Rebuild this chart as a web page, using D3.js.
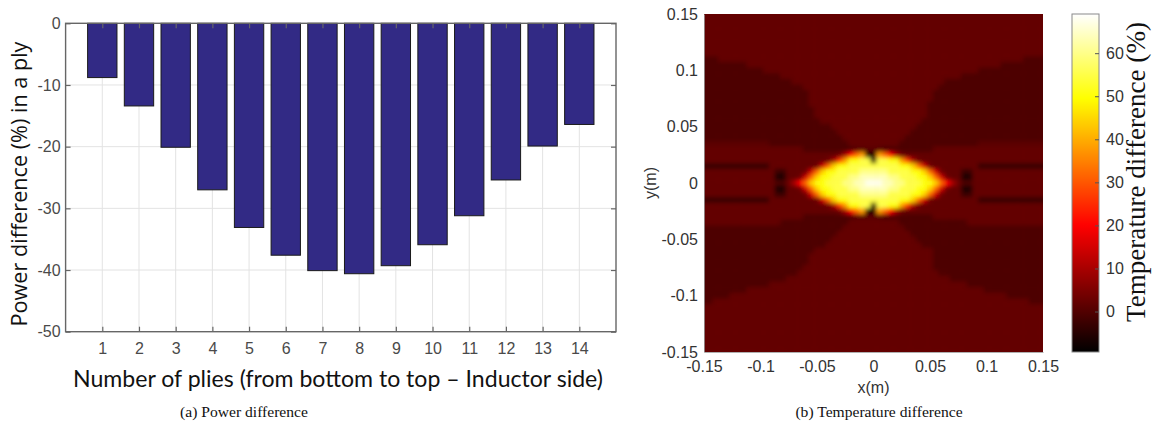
<!DOCTYPE html>
<html><head><meta charset="utf-8">
<script src="https://cdn.jsdelivr.net/npm/d3@7"></script>
<style>body{margin:0;background:#fff} svg{display:block}</style>
</head><body>
<svg id="c" width="1154" height="430"></svg>
<script>
// ---------- data: (a) power difference ----------
const plies = [1,2,3,4,5,6,7,8,9,10,11,12,13,14];
const powerDiff = [-8.8,-13.4,-20.1,-27.0,-33.1,-37.6,-40.1,-40.6,-39.3,-35.9,-31.2,-25.4,-19.9,-16.4];
const yTicksA = [0,-10,-20,-30,-40,-50];
const yTickLabelsA = ["0","-10","-20","-30","-40","-50"];
// ---------- data: (b) temperature difference field ----------
const axisTicksB = [-0.15,-0.1,-0.05,0,0.05,0.1,0.15];
const axisTickLabelsB = ["-0.15","-0.1","-0.05","0","0.05","0.1","0.15"];
const cbarTicks = [0,10,20,30,40,50,60];
const cbarRange = [-9.4, 69.1];
const gridStep = 0.005;          // m, cell size of the sampled field
// level codes -> temperature difference (%)
const levelCodes  = ["A","B","C","D","E","F","G","H","I","J","K","L","M","N","O","P","Q","R","S"];
const levelValues = [-6,-3,-0.5,1,2,3.5,6,10,15,20,26,32,38,44,50,55,60,64,68];
// rows from y=+0.15 (top) to y=-0.15 (bottom), run-length coded, 61 cells each (x=-0.15..0.15)
const fieldRows = [
"E61","E61","E61","E61","E61","E61","E61","E61",
"C3 E54 C4",
"C8 E45 C8",
"C11 E38 C12",
"C14 E32 C15",
"C16 E27 C18",
"C18 E24 C19",
"C19 E22 C20",
"C19 E22 C20",
"C19 E21 C21",
"C20 E20 C21",
"C20 E20 C21",
"C21 E18 C22",
"C23 E15 C23",
"C24 E13 C24",
"C25 E11 C25",
"D12 C14 E9 C14 D12",
"E18 C9 D5 C9 E20",
"E24 F1 H1 J1 L1 M1 A2 M1 L1 J1 H1 F1 E25",
"E22 F1 H1 K1 M1 O2 P2 A1 P2 O2 M1 K1 H1 F1 E22",
"B12 E8 F1 I1 L1 N1 O2 P9 O2 N1 L1 I1 F1 E8 B12",
"E13 B2 E3 F1 I1 L1 N1 O2 P4 Q5 P4 O2 N1 L1 I1 F1 E3 B2 E13",
"E13 A2 E2 F1 I1 L1 N1 O2 P3 Q2 R5 Q2 P3 O2 N1 L1 I1 F1 E2 A2 E13",
"E13 C2 F1 H1 J1 L1 N1 O2 P3 Q2 R2 S3 R2 Q2 P3 O2 N1 L1 J1 H1 F1 C2 E13",
"E13 A2 E2 F1 I1 L1 N1 O2 P3 Q2 R5 Q2 P3 O2 N1 L1 I1 F1 E2 A2 E13",
"E13 B2 E3 F1 I1 L1 N1 O2 P4 Q5 P4 O2 N1 L1 I1 F1 E3 B2 E13",
"B12 E8 F1 I1 L1 N1 O2 P9 O2 N1 L1 I1 F1 E8 B12",
"E22 F1 H1 K1 M1 O2 P2 A1 P2 O2 M1 K1 H1 F1 E22",
"E24 F1 H1 J1 L1 M1 A2 M1 L1 J1 H1 F1 E25",
"E18 C9 D5 C9 E20",
"E14 C12 E9 C12 E14",
"C25 E11 C25",
"C24 E13 C24",
"C23 E15 C23",
"C22 E17 C22",
"C20 E21 C20",
"C19 E22 C20",
"C19 E22 C20",
"C18 E23 C20",
"C17 E25 C19",
"C15 E29 C17",
"C12 E35 C14",
"C8 E42 C11",
"C5 E49 C7",
"C2 E56 C3",
"E61","E61","E61","E61","E61","E61","E61","E61","E61"
];

// ---------- helpers ----------
function decodeRow(s){
  const out = [];
  s.trim().split(/\s+/).forEach(tok => {
    const v = levelValues[levelCodes.indexOf(tok[0])];
    const n = +tok.slice(1);
    for (let k = 0; k < n; k++) out.push(v);
  });
  return out;
}
function hot(t){ // MATLAB "hot" colormap
  t = Math.max(0, Math.min(1, t));
  const r = Math.min(1, t / 0.375);
  const g = Math.max(0, Math.min(1, (t - 0.375) / 0.375));
  const b = Math.max(0, Math.min(1, (t - 0.75) / 0.25));
  return d3.rgb(r*255, g*255, b*255).formatHex();
}
function fitWidth(sel, target){
  const w = sel.node().getComputedTextLength();
  const fs = parseFloat(sel.attr("font-size"));
  sel.attr("font-size", (fs * target / w).toFixed(2));
}

const svg = d3.select("#c");
const defs = svg.append("defs");

// =================== (a) bar chart ===================
const A = {l: 65.6, r: 616, t: 23.3, b: 331.7};
const xA = d3.scaleLinear().domain([0, 15]).range([A.l, A.r]);
const yA = d3.scaleLinear().domain([0, -50]).range([A.t, A.b]);
const gA = svg.append("g");
const tickCol = "#4a4a4a";
const tickFont = "Liberation Sans, Arial, sans-serif";
// grid
gA.append("g").selectAll("line").data(plies).join("line")
  .attr("x1", d => xA(d)).attr("x2", d => xA(d)).attr("y1", A.t).attr("y2", A.b)
  .attr("stroke", "#e3e3e3").attr("stroke-width", 1);
gA.append("g").selectAll("line").data(yTicksA.slice(1, -1)).join("line")
  .attr("x1", A.l).attr("x2", A.r).attr("y1", d => yA(d)).attr("y2", d => yA(d))
  .attr("stroke", "#e3e3e3").attr("stroke-width", 1);
// bars
const bw = xA(0.8) - xA(0);
gA.append("g").selectAll("rect").data(powerDiff).join("rect")
  .attr("x", (d, i) => xA(plies[i]) - bw/2).attr("width", bw)
  .attr("y", yA(0)).attr("height", d => yA(d) - yA(0))
  .attr("fill", "#322a85").attr("stroke", "#1a1a1a").attr("stroke-width", 1);
// axes (MATLAB style, inward ticks, box)
const axB = d3.axisBottom(xA).tickValues(plies).tickSize(-5).tickPadding(11).tickFormat(d3.format("d"));
const axL = d3.axisLeft(yA).tickValues(yTicksA).tickSize(-5).tickPadding(5).tickFormat((d, i) => yTickLabelsA[i]);
const axR = d3.axisRight(yA).tickValues(yTicksA).tickSize(-5).tickFormat("");
const axT = d3.axisTop(xA).tickValues(plies).tickSize(-5).tickFormat("");
function styleAxis(g){
  g.selectAll(".tick line").attr("stroke", "#666").attr("stroke-width", 1.2);
  g.selectAll(".tick text").attr("fill", tickCol).attr("font-family", tickFont).attr("font-size", 16);
}
gA.append("g").attr("transform", `translate(0,${A.b})`).call(axB).call(styleAxis);
gA.append("g").attr("transform", `translate(${A.l},0)`).call(axL).call(styleAxis);
gA.append("g").attr("transform", `translate(${A.r},0)`).call(axR).call(styleAxis);
gA.append("g").attr("transform", `translate(0,${A.t})`).call(axT).call(styleAxis);
gA.selectAll(".domain").remove();
gA.append("rect").attr("x", A.l).attr("y", A.t).attr("width", A.r - A.l).attr("height", A.b - A.t)
  .attr("fill", "none").attr("stroke", "#666").attr("stroke-width", 1.4);
// labels
const ylabA = gA.append("text").attr("transform", `translate(27,${(40+328)/2}) rotate(-90)`)
  .attr("text-anchor", "middle").attr("font-family", "Open Sans, sans-serif").attr("font-size", 22)
  .attr("fill", "#111").text("Power difference (%) in a ply");
fitWidth(ylabA, 285);
const xlabA = gA.append("text").attr("x", 338).attr("y", 387)
  .attr("text-anchor", "middle").attr("font-family", "Lato, sans-serif").attr("font-size", 22)
  .attr("fill", "#111").text("Number of plies (from bottom to top \u2013 Inductor side)");
fitWidth(xlabA, 530);
svg.append("text").attr("x", 244).attr("y", 417).attr("text-anchor", "middle")
  .attr("font-family", "Liberation Serif, Times New Roman, serif").attr("font-size", 15.6)
  .attr("fill", "#111").text("(a) Power difference");

// =================== (b) heatmap ===================
const B = {l: 704, r: 1043, t: 14, b: 352};
const xB = d3.scaleLinear().domain([-0.15, 0.15]).range([B.l, B.r]);
const yB = d3.scaleLinear().domain([0.15, -0.15]).range([B.t, B.b]);
const color = d3.scaleSequential(hot).domain(cbarRange);

defs.append("clipPath").attr("id", "clipB").append("rect")
  .attr("x", B.l).attr("y", B.t).attr("width", B.r - B.l).attr("height", B.b - B.t);
defs.append("filter").attr("id", "soft").attr("x", "-3%").attr("y", "-3%").attr("width", "106%").attr("height", "106%")
  .append("feGaussianBlur").attr("stdDeviation", 1.9);

const cells = [];
fieldRows.forEach((row, j) => {
  decodeRow(row).forEach((v, i) => {
    cells.push({x: -0.15 + i * gridStep, y: 0.15 - j * gridStep, v});
  });
});
const gB = svg.append("g").attr("clip-path", "url(#clipB)");
gB.append("rect").attr("x", B.l).attr("y", B.t).attr("width", B.r - B.l).attr("height", B.b - B.t)
  .attr("fill", color(2));
const cw = xB(gridStep) - xB(0), ch = yB(0) - yB(gridStep);
gB.append("g").attr("filter", "url(#soft)").selectAll("rect").data(cells).join("rect")
  .attr("x", d => xB(d.x) - cw/2).attr("y", d => yB(d.y) - ch/2)
  .attr("width", cw + 0.6).attr("height", ch + 0.6)
  .attr("fill", d => color(d.v));

const axXB = d3.axisBottom(xB).tickValues(axisTicksB).tickSize(0).tickPadding(9).tickFormat((d, i) => axisTickLabelsB[i]);
const axYB = d3.axisLeft(yB).tickValues(axisTicksB).tickSize(0).tickPadding(6).tickFormat((d, i) => axisTickLabelsB[i]);
function styleB(g){
  g.select(".domain").attr("stroke", "#9a9a9a").attr("stroke-width", 0.8);
  g.selectAll(".tick text").attr("fill", "#333").attr("font-family", tickFont).attr("font-size", 16);
}
svg.append("g").attr("transform", `translate(0,${B.b})`).call(axXB).call(styleB);
svg.append("g").attr("transform", `translate(${B.l},0)`).call(axYB).call(styleB);
svg.append("text").attr("x", xB(0)).attr("y", 393).attr("text-anchor", "middle")
  .attr("font-family", tickFont).attr("font-size", 16).attr("fill", "#333").text("x(m)");
svg.append("text").attr("transform", `translate(656,${yB(0)}) rotate(-90)`).attr("text-anchor", "middle")
  .attr("font-family", tickFont).attr("font-size", 16).attr("fill", "#333").text("y(m)");
svg.append("text").attr("x", 879).attr("y", 417).attr("text-anchor", "middle")
  .attr("font-family", "Liberation Serif, Times New Roman, serif").attr("font-size", 15.6)
  .attr("fill", "#111").text("(b) Temperature difference");

// colorbar
const CB = {l: 1072, r: 1099, t: 14, b: 352};
const yC = d3.scaleLinear().domain(cbarRange).range([CB.b, CB.t]);
const grad = defs.append("linearGradient").attr("id", "cbgrad").attr("x1", 0).attr("y1", 1).attr("x2", 0).attr("y2", 0);
grad.selectAll("stop").data(d3.range(0, 1.0001, 0.01)).join("stop")
  .attr("offset", d => d).attr("stop-color", d => color(cbarRange[0] + d * (cbarRange[1] - cbarRange[0])));
svg.append("rect").attr("x", CB.l).attr("y", CB.t).attr("width", CB.r - CB.l).attr("height", CB.b - CB.t)
  .attr("fill", "url(#cbgrad)").attr("stroke", "#8a8a8a").attr("stroke-width", 1);
const axC = d3.axisRight(yC).tickValues(cbarTicks).tickSize(-4).tickPadding(7).tickFormat(d3.format("d"));
svg.append("g").attr("transform", `translate(${CB.r},0)`).call(axC).call(g => {
  g.select(".domain").remove();
  g.selectAll(".tick line").attr("stroke", "#555");
  g.selectAll(".tick text").attr("fill", "#333").attr("font-family", tickFont).attr("font-size", 16);
});
const cbl = svg.append("text").attr("transform", `translate(1145,172) rotate(-90)`).attr("text-anchor", "middle")
  .attr("font-family", "Liberation Serif, Times New Roman, serif").attr("font-size", 26)
  .attr("fill", "#111").text("Temperature difference (%)");
fitWidth(cbl, 300);
</script>
</body></html>
